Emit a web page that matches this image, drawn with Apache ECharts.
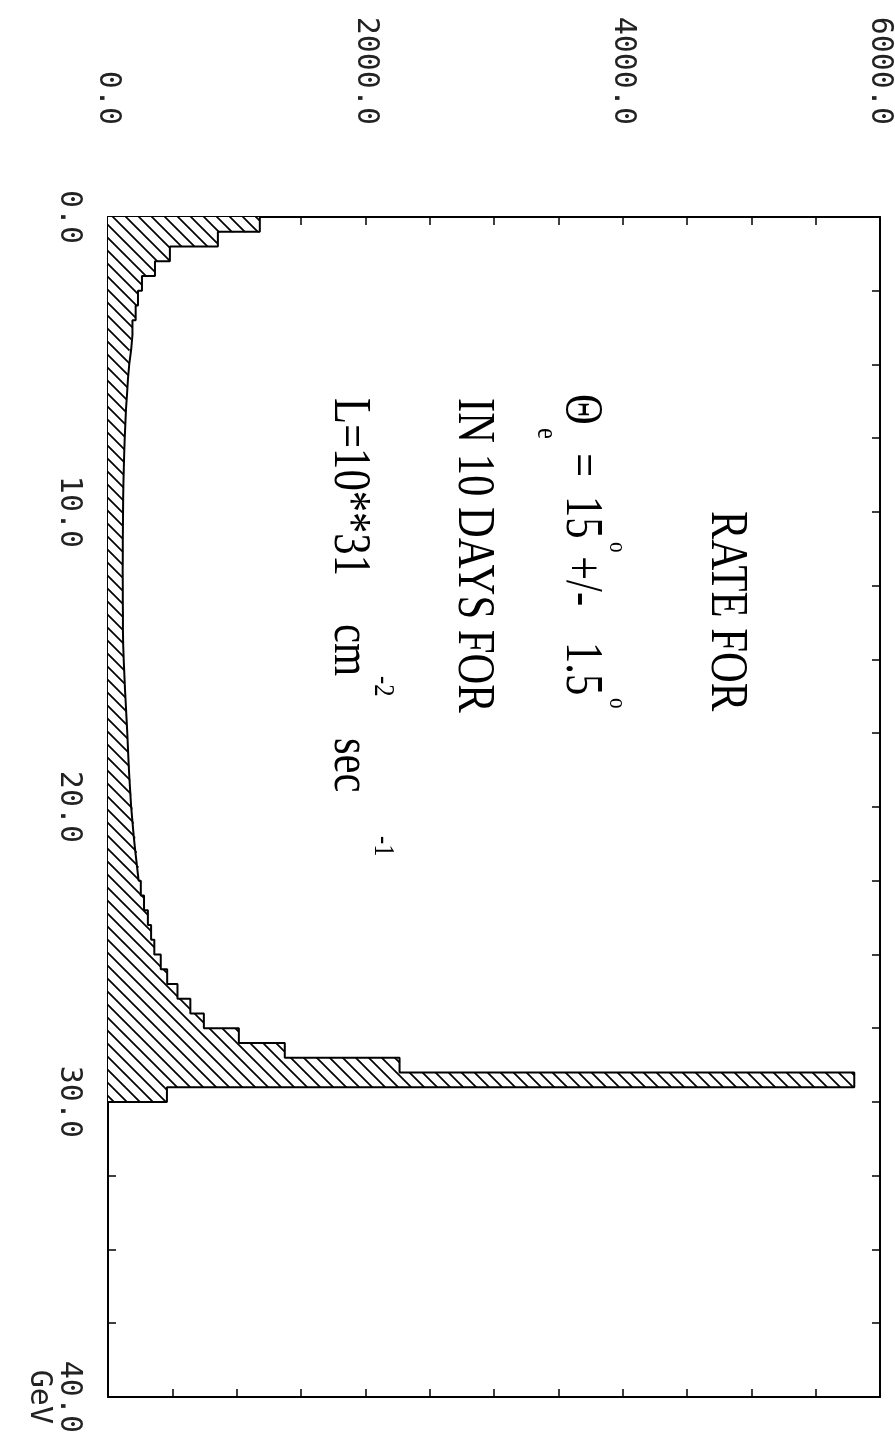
<!DOCTYPE html>
<html>
<head>
<meta charset="utf-8">
<script src="https://cdn.jsdelivr.net/npm/echarts@6.0.0/dist/echarts.min.js"></script>
<style>
html, body { margin: 0; padding: 0; background: #fff; }
#main { width: 895px; height: 1436px; }
</style>
</head>
<body>
<div id="main"></div>
<script>
// histogram: 0.5 GeV bins from 0 to 30 GeV, rate per bin
var binWidth = 0.5;
var rate = [
    1180, 854, 481, 365, 264, 233, 215, 190, 180, 165,
    155, 148, 140, 135, 130, 126, 123, 120, 118, 117,
    116, 115, 115, 114, 115, 115, 116, 116, 118, 122,
    127, 132, 138, 144, 150, 155, 160, 166, 173, 180,
    190, 200, 212, 225, 238, 255, 280, 310, 335, 360,
    410, 460, 540, 640, 745, 1017, 1374, 2266, 5800, 458
];
var rateLabels = ['0.0', '2000.0', '4000.0', '6000.0'];
var energyLabels = ['0.0', '10.0', '20.0', '30.0', '40.0'];

var chart = echarts.init(document.getElementById('main'));

// diagonal hatching
var makeHatch = function () {
    var s = 13, c = document.createElement('canvas');
    c.width = s; c.height = s;
    var g = c.getContext('2d');
    g.fillStyle = '#fff';
    g.fillRect(0, 0, s, s);
    g.strokeStyle = '#000';
    g.lineWidth = 1.7;
    g.beginPath();
    g.moveTo(-2, -2); g.lineTo(s + 2, s + 2);
    g.moveTo(s - 2, -2); g.lineTo(s + 2, 2);
    g.moveTo(-2, s - 2); g.lineTo(2, s + 2);
    g.stroke();
    return c;
};
var hatch = makeHatch();

var bins = rate.map(function (v, i) {
    return [i * binWidth, (i + 1) * binWidth, v];
});
var outline = [];
rate.forEach(function (v, i) {
    outline.push([v, i * binWidth]);
    outline.push([v, (i + 1) * binWidth]);
});
outline.push([0, rate.length * binWidth]);

var labelFont = {
    fontFamily: 'DejaVu Sans Mono',
    fontSize: 30,
    color: '#222'
};
var frameLine = { show: true, onZero: false, lineStyle: { color: '#000', width: 2 } };
var tick = { show: true, inside: true, length: 8, lineStyle: { color: '#000', width: 1.5 } };

var txt = function (text, x, y, size) {
    return {
        type: 'text', x: x, y: y, rotation: -Math.PI / 2, scaleX: 0.82,
        style: {
            text: text, font: size + 'px "Liberation Serif"', fill: '#000',
            textAlign: 'left', textVerticalAlign: 'middle'
        },
        z: 100
    };
};

var option = {
    animation: false,
    backgroundColor: '#fff',
    grid: { left: 108, right: 15, top: 217, bottom: 30 },
    xAxis: [
        {
            // top axis: echarts negates rotate here
            type: 'value', position: 'top', min: 0, max: 6000, interval: 500,
            axisLine: frameLine, axisTick: tick, splitLine: { show: false },
            axisLabel: Object.assign({
                rotate: 90, margin: 92,
                formatter: function (v) {
                    return v % 2000 === 0 ? rateLabels[v / 2000] : '';
                }
            }, labelFont)
        },
        {
            type: 'value', position: 'bottom', min: 0, max: 6000, interval: 500,
            axisLine: frameLine, axisTick: tick, splitLine: { show: false },
            axisLabel: { show: false }
        }
    ],
    yAxis: [
        {
            type: 'value', position: 'left', inverse: true, min: 0, max: 40, interval: 2.5,
            axisLine: frameLine, axisTick: tick, splitLine: { show: false },
            axisLabel: Object.assign({
                rotate: -90, margin: 24, lineHeight: 30,
                formatter: function (v) {
                    if (v % 10 !== 0) return '';
                    return energyLabels[v / 10] + (v === 40 ? '\nGeV' : '');
                }
            }, labelFont)
        },
        {
            type: 'value', position: 'right', inverse: true, min: 0, max: 40, interval: 2.5,
            axisLine: frameLine, axisTick: tick, splitLine: { show: false },
            axisLabel: { show: false }
        }
    ],
    series: [
        {
            type: 'custom',
            xAxisIndex: 0, yAxisIndex: 0,
            silent: true,
            data: bins,
            encode: { x: 2, y: [0, 1] },
            renderItem: function (params, api) {
                var a = api.coord([0, api.value(0)]);
                var b = api.coord([api.value(2), api.value(1)]);
                return {
                    type: 'rect',
                    shape: { x: a[0], y: a[1], width: b[0] - a[0], height: b[1] - a[1] + 0.6 },
                    style: { fill: { image: hatch, repeat: 'repeat' }, stroke: null }
                };
            }
        },
        {
            type: 'line',
            xAxisIndex: 0, yAxisIndex: 0,
            data: outline,
            symbol: 'none',
            silent: true,
            lineStyle: { color: '#000', width: 2 }
        }
    ],
    graphic: [
        txt('RATE FOR', 726, 511, 52),
        txt('\u0398', 581, 394, 52),
        txt('e', 546, 428, 30),
        txt('=', 581, 453, 52),
        txt('15', 581, 496, 52),
        txt('o', 617, 542, 26),
        txt('+/-', 581, 556, 52),
        txt('1.5', 581, 642, 52),
        txt('o', 617, 698, 26),
        txt('IN 10 DAYS FOR', 473, 398, 52),
        txt('L=10**31', 349, 398, 52),
        txt('cm', 349, 624, 52),
        txt('-2', 383, 676, 30),
        txt('sec', 349, 738, 52),
        txt('-1', 383, 836, 30)
    ]
};
chart.setOption(option);
window.onresize = function () {
    chart.resize();
};
</script>
</body>
</html>
